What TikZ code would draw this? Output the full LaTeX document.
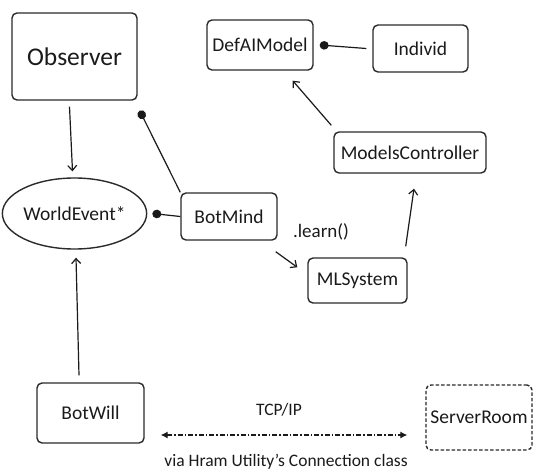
\documentclass[tikz,border=0pt]{standalone}
\usepackage{fontspec}
\setmainfont{Carlito}
\usetikzlibrary{arrows.meta,shapes.geometric}
\definecolor{ink}{HTML}{1A1A1A}
\definecolor{rim}{HTML}{2A2A2A}
\tikzset{
  cls/.style={draw=rim, line width=1.4pt, rounded corners=5pt, inner sep=0pt,
    text=ink, font=\fontsize{19.5}{21}\selectfont},
  oval/.style={draw=rim, line width=1.4pt, ellipse, inner sep=0pt,
    text=ink, font=\fontsize{19.5}{21}\selectfont},
  remote/.style={cls, dashed, dash pattern=on 3.5pt off 2pt},
  lbl/.style={text=ink, inner sep=0pt, font=\fontsize{17.5}{19}\selectfont},
  link/.style={draw=ink, line width=1.2pt},
  uses/.style={link, -{Straight Barb[length=5pt,width=9pt,line width=1.2pt]}},
  owns/.style={link, {Circle[length=9pt,width=8.5pt]}-},
  wire/.style={draw=ink, line width=1.1pt, dash pattern=on 5pt off 2pt on 1.5pt off 2pt,
    {Latex[length=7pt,width=7pt]}-{Latex[length=7pt,width=7pt]}}
}
\begin{document}
\begin{tikzpicture}[x=1pt,y=-1pt]
\useasboundingbox (0,0) rectangle (534,473);

% classes
\node[cls, minimum width=125pt, minimum height=87pt,
      font=\fontsize{25.5}{27}\selectfont] (obs) at (74.5,56.5) {Observer};
\node[cls, minimum width=106pt, minimum height=50pt] (dm) at (260,45) {DefAIModel};
\node[cls, minimum width=95pt, minimum height=47pt] (ind) at (420.5,48.5) {Individ};
\node[cls, minimum width=152pt, minimum height=41pt] (mc) at (410,152.5) {ModelsController};
\node[oval, minimum width=131pt, minimum height=71pt] (we) at (74.5,213.5) {WorldEvent*};
\node[cls, minimum width=96pt, minimum height=47pt] (bm) at (229,216.5) {BotMind};
\node[cls, minimum width=99pt, minimum height=45pt] (ml) at (357.5,280.5) {MLSystem};
\node[cls, minimum width=107pt, minimum height=60pt] (bw) at (90.5,413) {BotWill};
\node[remote, minimum width=106pt, minimum height=65pt] (sr) at (479,417.5) {ServerRoom};

% labels
\node[lbl, font=\fontsize{19}{21}\selectfont] (learn) at (321,232) {.learn()};
\node[lbl] (tcp) at (279,410) {TCP/IP};
\node[lbl] (via) at (286,462) {via Hram Utility's Connection class};

% relations
\draw[uses] ([xshift=-5pt,yshift=-6pt]obs.south) -- ([xshift=-2pt,yshift=6pt]we.north);
\draw[owns] ([xshift=2pt,yshift=-10pt]obs.south east) -- (bm.north west);
\draw[owns] ([xshift=5pt]we.east) -- (bm.west);
\draw[owns] ([xshift=6pt]dm.east) -- ([xshift=-6pt]ind.west);
\draw[uses] ([xshift=-2pt,yshift=6pt]mc.north west) -- ([xshift=-21pt,yshift=-10pt]dm.south east);
\draw[uses] ([xshift=-2pt,yshift=-11pt]bm.south east) -- ([xshift=-10pt,yshift=-10pt]ml.north west);
\draw[uses] ([xshift=-2pt,yshift=11pt]ml.north east) -- ([xshift=4pt,yshift=-15pt]mc.south);
\draw[uses] ([xshift=-11.5pt,yshift=7pt]bw.north) -- ([xshift=1.5pt,yshift=-8pt]we.south);
\draw[wire] ([xshift=16pt,yshift=-22pt]bw.east) -- ([xshift=-18pt,yshift=-17.5pt]sr.west);
\end{tikzpicture}
\end{document}
